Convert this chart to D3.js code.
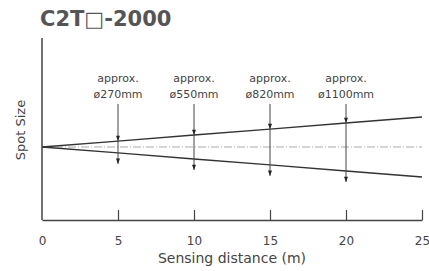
<!DOCTYPE html>
<html>
<head>
<meta charset="utf-8">
<script src="https://cdn.jsdelivr.net/npm/d3@7"></script>
<style>
  body { margin: 0; background: #fff; }
  text { font-family: "DejaVu Sans", sans-serif; fill: #444; }
</style>
</head>
<body>
<div id="chart"></div>
<script>
// data
const distances = [0, 5, 10, 15, 20, 25];          // m
const spotSizes = [0, 270, 550, 820, 1100, 1375];   // mm, beam diameter
const markDist = [5, 10, 15, 20];
const markLabels = ['ø270mm', 'ø550mm', 'ø820mm', 'ø1100mm'];
const xTicks = [0, 5, 10, 15, 20, 25];

const width = 429, height = 271;
const margin = { top: 40, right: 7, bottom: 51, left: 42 };

const svg = d3.select('#chart').append('svg')
    .attr('width', width)
    .attr('height', height);

const xScale = d3.scaleLinear()
    .domain([0, 25])
    .range([margin.left, width - margin.right]);

// spot size axis, centre of the beam at 0
const yScale = d3.scaleLinear()
    .domain([-1675, 2455])
    .range([height - margin.bottom, margin.top]);

// title
svg.append('text')
    .attr('x', 40).attr('y', 26)
    .style('font-size', '21px')
    .style('font-weight', 'bold')
    .style('fill', '#555')
    .text('C2T□-2000');

// centre line
svg.append('line')
    .attr('x1', xScale(0)).attr('x2', xScale(25))
    .attr('y1', yScale(0)).attr('y2', yScale(0))
    .attr('stroke', '#aaa')
    .attr('stroke-width', 1)
    .attr('stroke-dasharray', '8,2,1,2');

// beam edges
const beam = distances.map((d, i) => ({ d, s: spotSizes[i] }));
[1, -1].forEach(sign => {
    svg.append('path')
        .datum(beam)
        .attr('fill', 'none')
        .attr('stroke', '#333')
        .attr('stroke-width', 1.4)
        .attr('d', d3.line()
            .x(p => xScale(p.d))
            .y(p => yScale(sign * p.s / 2)));
});

// arrow head marker, points along the line
svg.append('defs').append('marker')
    .attr('id', 'head')
    .attr('viewBox', '0 0 8 6')
    .attr('refX', 8).attr('refY', 3)
    .attr('markerUnits', 'userSpaceOnUse')
    .attr('markerWidth', 7).attr('markerHeight', 4)
    .attr('orient', 'auto')
    .append('path')
    .attr('d', 'M0,0 L8,3 L0,6 Z')
    .attr('fill', '#222');

// dimension marks
const marks = markDist.map((d, i) => ({
    d, label: markLabels[i], s: spotSizes[distances.indexOf(d)]
}));

const mg = svg.selectAll('.mark')
    .data(marks)
    .enter().append('g')
    .attr('class', 'mark');

mg.append('line')
    .attr('x1', m => xScale(m.d)).attr('x2', m => xScale(m.d))
    .attr('y1', 104)
    .attr('y2', m => yScale(m.s / 2))
    .attr('stroke', '#444').attr('stroke-width', 1)
    .attr('marker-end', 'url(#head)');

mg.append('line')
    .attr('x1', m => xScale(m.d)).attr('x2', m => xScale(m.d))
    .attr('y1', m => yScale(m.s / 2))
    .attr('y2', m => yScale(-m.s / 2) + 11)
    .attr('stroke', '#444').attr('stroke-width', 1)
    .attr('marker-end', 'url(#head)');

mg.append('text')
    .attr('x', m => xScale(m.d)).attr('y', 82)
    .attr('text-anchor', 'middle')
    .style('font-size', '11px')
    .text('approx.');

mg.append('text')
    .attr('x', m => xScale(m.d)).attr('y', 98)
    .attr('text-anchor', 'middle')
    .style('font-size', '11px')
    .text(m => m.label);

// axes
const axisColor = '#444';
svg.append('line')
    .attr('x1', xScale(0)).attr('x2', xScale(0))
    .attr('y1', margin.top - 2).attr('y2', yScale.range()[0])
    .attr('stroke', axisColor).attr('stroke-width', 1.5);

const xAxis = d3.axisBottom(xScale)
    .tickValues(xTicks)
    .tickSizeInner(-10)
    .tickSizeOuter(0)
    .tickPadding(16);

const gx = svg.append('g')
    .attr('transform', `translate(0, ${yScale.range()[0]})`)
    .call(xAxis);

gx.select('.domain').attr('stroke', axisColor).attr('stroke-width', 1.5);
gx.selectAll('.tick line').attr('stroke', axisColor).attr('stroke-width', 1.2);
gx.selectAll('.tick').filter(d => d === 0).select('line').remove();
gx.selectAll('.tick text')
    .style('font-size', '12px')
    .style('font-family', '"DejaVu Sans", sans-serif')
    .attr('fill', '#444');

// axis titles
svg.append('text')
    .attr('x', 232).attr('y', 263)
    .attr('text-anchor', 'middle')
    .style('font-size', '14px')
    .text('Sensing distance (m)');

svg.append('text')
    .attr('transform', 'translate(25, 130) rotate(-90)')
    .attr('text-anchor', 'middle')
    .style('font-size', '13px')
    .text('Spot Size');
</script>
</body>
</html>
